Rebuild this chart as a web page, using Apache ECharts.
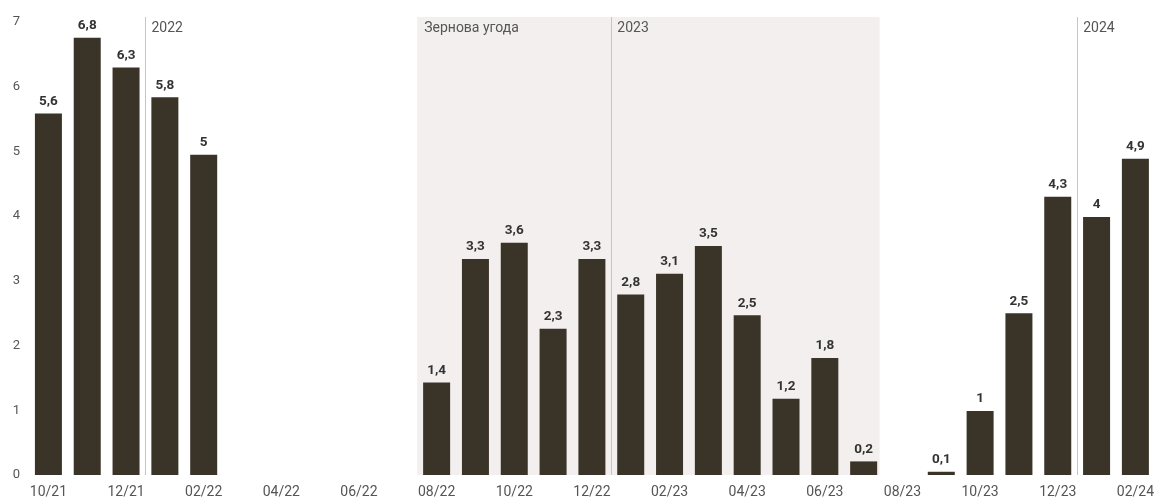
<!DOCTYPE html>
<html>
<head>
<meta charset="utf-8">
<script src="https://cdn.jsdelivr.net/npm/echarts@6/dist/echarts.min.js"></script>
<style>
html,body{margin:0;padding:0;background:#fff;}
#chart{width:1157px;height:499px;}
</style>
</head>
<body>
<div id="chart"></div>
<script>
const months = ['10/21','11/21','12/21','01/22','02/22','03/22','04/22','05/22','06/22','07/22','08/22','09/22','10/22','11/22','12/22','01/23','02/23','03/23','04/23','05/23','06/23','07/23','08/23','09/23','10/23','11/23','12/23','01/24','02/24'];
const values = [5.59,6.76,6.30,5.84,4.95,null,null,null,null,null,1.43,3.34,3.59,2.26,3.34,2.79,3.11,3.54,2.47,1.18,1.81,0.21,null,0.05,0.99,2.50,4.30,3.99,4.89];
const yTicks = [0,1,2,3,4,5,6,7];
const yearStarts = [['2022','01/22'],['2023','01/23'],['2024','01/24']];
const dealPeriod = ['Зернова угода','08/22','07/23'];

const idx = m => months.indexOf(m);
const font = 'Roboto, "Noto Sans", sans-serif';
const fmt = v => String(Math.round(v * 10 + 1e-9) / 10).replace('.', ',');

const yearLines = yearStarts.map(y => ({xAxis: idx(y[1]) - 0.5}));
const yearAreas = yearStarts.map((y, i) => {
  const start = idx(y[1]) - 0.5;
  const end = i + 1 < yearStarts.length ? idx(yearStarts[i+1][1]) - 0.5 : months.length - 0.5;
  return [{xAxis: start, name: y[0]}, {xAxis: end}];
});

const chart = echarts.init(document.getElementById('chart'));
chart.setOption({
  animation: false,
  backgroundColor: '#fff',
  grid: {left: 29, right: 1, top: 17, bottom: 23, containLabel: false},
  xAxis: [{
    type: 'category',
    data: months,
    axisLine: {show: false},
    axisTick: {show: false},
    axisLabel: {interval: 1, color: '#555', fontSize: 14, fontFamily: font, margin: 10}
  }, {
    type: 'value', min: -0.5, max: months.length - 0.5, show: false
  }],
  yAxis: {
    type: 'value', min: 0, max: 7.08, interval: 1,
    splitLine: {show: false},
    axisLine: {show: false},
    axisTick: {show: false},
    axisLabel: {
      color: '#555', fontSize: 13, fontFamily: font, margin: 9, align: 'right',
      formatter: v => yTicks.includes(v) ? String(v) : ''
    }
  },
  series: [{
    type: 'line',
    xAxisIndex: 1,
    data: [],
    z: 1,
    silent: true,
    markArea: {
      silent: true,
      itemStyle: {color: '#f3efee'},
      label: {position: 'insideTopLeft', distance: 0, offset: [7, 4], color: '#555', fontSize: 14, fontFamily: font},
      data: [[{xAxis: idx(dealPeriod[1]) - 0.5, name: dealPeriod[0]}, {xAxis: idx(dealPeriod[2]) + 0.41}]]
    }
  }, {
    type: 'line',
    xAxisIndex: 1,
    data: [],
    z: 2,
    silent: true,
    markArea: {
      silent: true,
      itemStyle: {color: 'rgba(0,0,0,0)'},
      label: {position: 'insideTopLeft', distance: 0, offset: [6, 4], color: '#555', fontSize: 14, fontFamily: font},
      data: yearAreas
    },
    markLine: {
      silent: true,
      symbol: 'none',
      label: {show: false},
      lineStyle: {color: '#c4c2d8', width: 1, type: 'solid'},
      data: yearLines
    }
  }, {
    type: 'bar',
    data: values,
    barWidth: 27,
    z: 3,
    itemStyle: {color: '#3a3328'},
    label: {
      show: true, position: 'top', distance: 5,
      color: '#333', fontWeight: 'bold', fontSize: 13.5, fontFamily: font,
      formatter: p => fmt(p.value)
    }
  }]
});
</script>
</body>
</html>
